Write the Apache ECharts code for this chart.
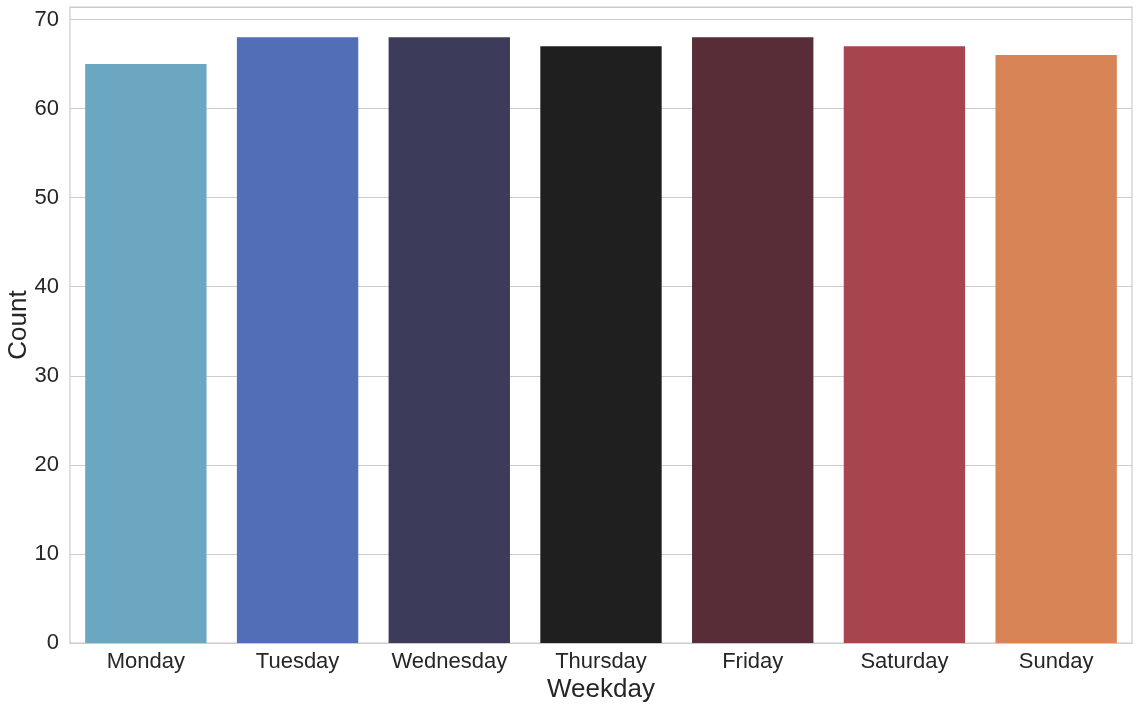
<!DOCTYPE html>
<html><head><meta charset="utf-8">
<script src="https://cdn.jsdelivr.net/npm/echarts@6/dist/echarts.min.js"></script>
<style>html,body{margin:0;padding:0;background:#fff}#c{width:1140px;height:708px}</style>
</head><body><div id="c"></div>
<script>
const categories = ['Monday','Tuesday','Wednesday','Thursday','Friday','Saturday','Sunday'];
const counts = [65, 68, 68, 67, 68, 67, 66];
const colors = ['#6ba7c0','#526eb7','#3c3b5a','#1f1f1f','#582d37','#a8444e','#d88457'];
const yTicks = [0,10,20,30,40,50,60,70];
const FONT = 'Liberation Sans, Arial, sans-serif';
const chart = echarts.init(document.getElementById('c'));
chart.setOption({
  animation: false,
  backgroundColor: '#ffffff',
  grid: {left: 70, right: 8, top: 7, bottom: 65, outerBoundsMode: 'none', containLabel: false,
    show: true, borderColor: '#cccccc', borderWidth: 1.2, backgroundColor: 'transparent'},
  xAxis: {
    type: 'category', data: categories,
    axisLine: {show: true, lineStyle: {color: '#cccccc', width: 1.2}},
    axisTick: {show: false},
    axisLabel: {fontFamily: FONT, fontSize: 22, color: '#262626', margin: 8},
    name: 'Weekday', nameLocation: 'middle', nameGap: 34, nameMoveOverlap: false,
    nameTextStyle: {fontFamily: FONT, fontSize: 26, color: '#262626'}
  },
  yAxis: {
    type: 'value', min: 0, max: 71.4, interval: 10,
    axisLine: {show: false}, axisTick: {show: false},
    axisLabel: {fontFamily: FONT, fontSize: 22, color: '#262626', margin: 11, showMaxLabel: false,
      formatter: v => yTicks.includes(v) ? String(v) : ''},
    splitLine: {show: true, lineStyle: {color: '#cccccc', width: 1.2}},
    name: 'Count', nameLocation: 'middle', nameGap: 38, nameMoveOverlap: false,
    nameTextStyle: {fontFamily: FONT, fontSize: 26, color: '#262626'}
  },
  series: [{
    type: 'bar', barWidth: '80%',
    data: counts.map((v, i) => ({value: v, itemStyle: {color: colors[i]}}))
  }]
});
</script></body></html>
